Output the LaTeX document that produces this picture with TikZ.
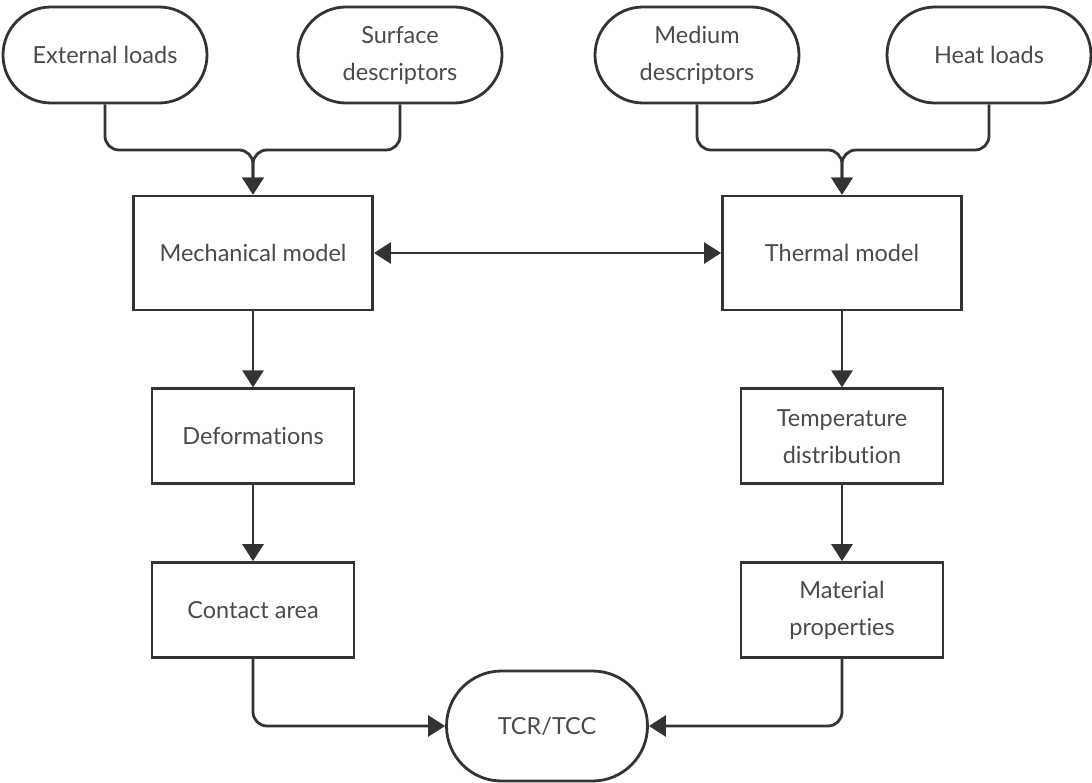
\documentclass[tikz,border=0pt]{standalone}
\usepackage{fontspec}
\setmainfont{Lato}[Ligatures=NoCommon]
\usetikzlibrary{positioning,arrows.meta}

\definecolor{linegray}{HTML}{333333}
\definecolor{textgray}{HTML}{4A4A4A}

\tikzset{
  term/.style={draw=linegray, rounded corners=48pt, minimum width=204pt, minimum height=96pt, inner sep=0pt},
  bigbox/.style={draw=linegray, minimum width=239pt, minimum height=114pt, inner sep=0pt},
  box/.style={draw=linegray, minimum width=202pt, minimum height=95pt, inner sep=0pt},
  arr/.style={-{Triangle[width=21pt,length=17pt]}, draw=linegray},
  dblarr/.style={{Triangle[width=21pt,length=17pt]}-{Triangle[width=21pt,length=17pt]}, draw=linegray}
}

\begin{document}
\begin{tikzpicture}[x=1pt,y=-1pt,line width=2.8pt,node distance=76pt,
    font=\fontsize{23.5}{37}\selectfont, text=textgray]
  \useasboundingbox (0,0) rectangle (1092,783);
  % inputs
  \node[term] (ext) at (105,55) {External loads};
  \node[term,align=center] (surf) at (400,55) {Surface\\descriptors};
  \node[term,align=center] (med) at (697,55) {Medium\\descriptors};
  \node[term] (heat) at (989,55) {Heat loads};
  % models
  \node[bigbox] (mech) at (253,253) {Mechanical model};
  \node[bigbox] (therm) at (842,253) {Thermal model};
  \node[box,below=of mech] (deform) {Deformations};
  \node[box,below=of deform] (contact) {Contact area};
  \node[box,below=of therm,align=center] (temp) {Temperature\\distribution};
  \node[box,below=of temp,align=center] (mat) {Material\\properties};
  \node[term,minimum width=201pt,minimum height=110pt,rounded corners=55pt] (tcr) at (547,726) {TCR/TCC};
  % junctions
  \coordinate (mj) at (253,150);
  \coordinate (tj) at (842,150);
  \draw[arr,rounded corners=14pt] (ext.south) |- (mj) -- (mech.north);
  \draw[arr,rounded corners=14pt] (surf.south) |- (mj) -- (mech.north);
  \draw[arr,rounded corners=14pt] (med.south) |- (tj) -- (therm.north);
  \draw[arr,rounded corners=14pt] (heat.south) |- (tj) -- (therm.north);
  \draw[dblarr] (mech) -- (therm);
  \draw[arr] (mech) -- (deform);
  \draw[arr] (deform) -- (contact);
  \draw[arr] (therm) -- (temp);
  \draw[arr] (temp) -- (mat);
  \draw[arr,rounded corners=14pt] (contact.south) |- (tcr.west);
  \draw[arr,rounded corners=14pt] (mat.south) |- (tcr.east);
\end{tikzpicture}
\end{document}
